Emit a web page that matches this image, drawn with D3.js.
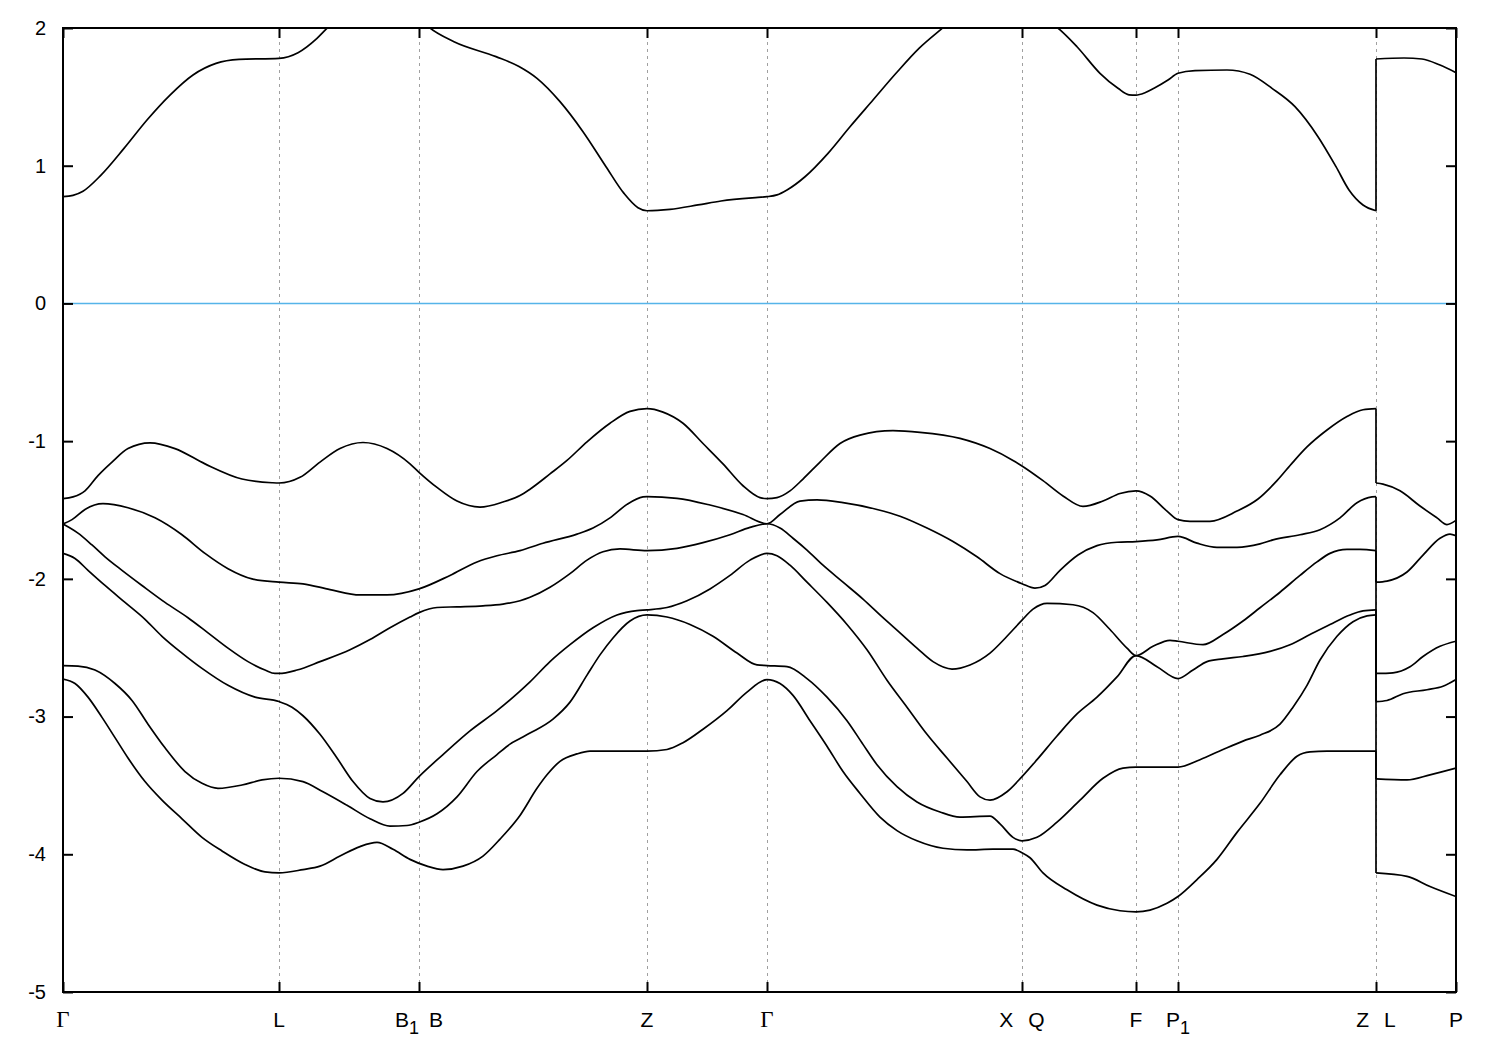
<!DOCTYPE html>
<html><head><meta charset="utf-8">
<script src="https://cdn.jsdelivr.net/npm/d3@7/dist/d3.min.js"></script>
<style>body{margin:0;background:#fff}</style>
</head><body>
<svg id="chart" width="1500" height="1050"></svg>
<script>
// ---- data (k-path distance, energy in eV) ----
const kTicks = [0, 2.16, 3.56, 5.84, 7.04, 9.59, 10.73, 11.15, 13.13, 13.93];
const kLabels = ["Γ", "L", "B_1|B", "Z", "Γ", "X|Q", "F", "P_1", "Z|L", "P"];
const yTicks = [2, 1, 0, -1, -2, -3, -4, -5];
const yDomain = [-5, 2];

const conductionBand = [[0,0.775],[0.10,0.785],[0.20,0.815],[0.38,0.932],[0.61,1.126],[0.84,1.332],[1.07,1.513],[1.30,1.659],[1.53,1.743],[1.76,1.772],[2.16,1.78],[2.35,1.821],[2.54,1.925],[2.65,2.005],[3.0,2.18],[3.3,2.15],[3.56,2.07],[3.66,2.005],[3.91,1.90],[4.33,1.792],[4.56,1.72],[4.74,1.634],[4.97,1.465],[5.20,1.247],[5.43,0.993],[5.61,0.799],[5.75,0.695],[5.84,0.673],[6.07,0.683],[6.35,0.715],[6.58,0.744],[6.95,0.770],[7.04,0.775],[7.14,0.788],[7.24,0.824],[7.42,0.92],[7.65,1.09],[7.87,1.283],[8.10,1.477],[8.33,1.671],[8.56,1.852],[8.78,1.99],[9.0,2.12],[9.3,2.18],[9.6,2.12],[9.94,2.005],[10.14,1.864],[10.37,1.671],[10.55,1.562],[10.66,1.515],[10.73,1.513],[10.82,1.530],[10.91,1.562],[11.05,1.622],[11.15,1.671],[11.32,1.69],[11.64,1.695],[11.87,1.664],[12.09,1.562],[12.32,1.429],[12.55,1.211],[12.73,0.993],[12.86,0.824],[13.00,0.715],[13.13,0.673],[13.13,1.775],[13.41,1.782],[13.59,1.775],[13.77,1.731],[13.93,1.676]];

const valenceBand1 = [[0,-1.417],[0.10,-1.405],[0.22,-1.361],[0.35,-1.25],[0.49,-1.152],[0.65,-1.054],[0.87,-1.012],[1.12,-1.054],[1.42,-1.165],[1.79,-1.275],[2.09,-1.302],[2.16,-1.304],[2.37,-1.263],[2.57,-1.152],[2.77,-1.054],[3.00,-1.01],[3.24,-1.054],[3.47,-1.165],[3.56,-1.226],[3.74,-1.336],[3.94,-1.435],[4.17,-1.479],[4.40,-1.442],[4.57,-1.395],[4.67,-1.349],[4.87,-1.238],[5.04,-1.14],[5.24,-1.005],[5.47,-0.87],[5.67,-0.784],[5.84,-0.764],[6.00,-0.789],[6.20,-0.87],[6.40,-1.017],[6.60,-1.165],[6.80,-1.324],[6.97,-1.41],[7.04,-1.417],[7.14,-1.41],[7.27,-1.361],[7.40,-1.275],[7.57,-1.152],[7.77,-1.017],[7.97,-0.956],[8.30,-0.924],[8.57,-0.936],[8.97,-0.98],[9.27,-1.054],[9.50,-1.14],[9.59,-1.18],[9.80,-1.287],[10.00,-1.398],[10.20,-1.474],[10.40,-1.435],[10.57,-1.38],[10.73,-1.361],[10.87,-1.398],[11.04,-1.508],[11.15,-1.57],[11.27,-1.582],[11.47,-1.582],[11.74,-1.508],[11.95,-1.42],[12.14,-1.287],[12.30,-1.152],[12.44,-1.042],[12.64,-0.919],[12.84,-0.821],[13.00,-0.772],[13.13,-0.764],[13.13,-1.304],[13.20,-1.312],[13.37,-1.361],[13.57,-1.471],[13.74,-1.557],[13.84,-1.606],[13.93,-1.575]];

const valenceBand2 = [[0,-1.602],[0.09,-1.57],[0.22,-1.496],[0.40,-1.454],[0.65,-1.484],[0.92,-1.557],[1.19,-1.68],[1.42,-1.815],[1.65,-1.926],[1.89,-2.0],[2.16,-2.024],[2.40,-2.036],[2.67,-2.078],[2.97,-2.117],[3.24,-2.117],[3.56,-2.073],[3.87,-1.975],[4.14,-1.877],[4.34,-1.832],[4.57,-1.795],[4.80,-1.741],[5.14,-1.675],[5.30,-1.631],[5.47,-1.557],[5.64,-1.459],[5.80,-1.405],[5.84,-1.403],[6.14,-1.415],[6.47,-1.464],[6.80,-1.533],[7.04,-1.600],[7.17,-1.533],[7.37,-1.435],[7.54,-1.427],[7.80,-1.447],[8.14,-1.496],[8.37,-1.545],[8.64,-1.631],[8.90,-1.729],[9.14,-1.84],[9.37,-1.962],[9.59,-2.035],[9.72,-2.068],[9.82,-2.048],[9.97,-1.938],[10.15,-1.827],[10.34,-1.759],[10.54,-1.734],[10.73,-1.729],[10.94,-1.717],[11.15,-1.692],[11.34,-1.741],[11.54,-1.771],[11.74,-1.771],[11.97,-1.746],[12.10,-1.717],[12.37,-1.68],[12.57,-1.643],[12.77,-1.557],[12.94,-1.447],[13.09,-1.405],[13.13,-1.403],[13.13,-2.024],[13.24,-2.016],[13.44,-1.95],[13.60,-1.827],[13.77,-1.705],[13.87,-1.675],[13.93,-1.687]];

const valenceBand3 = [[0,-1.602],[0.15,-1.668],[0.29,-1.754],[0.42,-1.84],[0.59,-1.938],[0.79,-2.048],[1.02,-2.171],[1.25,-2.282],[1.45,-2.392],[1.65,-2.503],[1.85,-2.601],[2.02,-2.662],[2.12,-2.687],[2.16,-2.687],[2.34,-2.662],[2.57,-2.601],[2.87,-2.515],[3.07,-2.441],[3.27,-2.355],[3.47,-2.277],[3.56,-2.245],[3.74,-2.208],[3.94,-2.203],[4.20,-2.196],[4.40,-2.183],[4.57,-2.159],[4.67,-2.134],[4.87,-2.061],[5.07,-1.962],[5.24,-1.864],[5.40,-1.803],[5.57,-1.783],[5.84,-1.795],[6.14,-1.778],[6.40,-1.737],[6.67,-1.68],[6.87,-1.626],[7.04,-1.600],[7.17,-1.631],[7.30,-1.705],[7.44,-1.791],[7.60,-1.901],[7.80,-2.024],[8.00,-2.147],[8.20,-2.282],[8.37,-2.392],[8.54,-2.503],[8.70,-2.601],[8.89,-2.655],[9.07,-2.625],[9.27,-2.539],[9.44,-2.417],[9.59,-2.30],[9.70,-2.22],[9.84,-2.178],[10.10,-2.188],[10.30,-2.245],[10.47,-2.368],[10.64,-2.503],[10.73,-2.557],[10.90,-2.49],[11.07,-2.446],[11.15,-2.453],[11.40,-2.478],[11.60,-2.404],[11.80,-2.306],[11.97,-2.21],[12.17,-2.097],[12.37,-1.975],[12.54,-1.877],[12.67,-1.815],[12.84,-1.786],[12.97,-1.786],[13.13,-1.795],[13.13,-2.687],[13.30,-2.682],[13.47,-2.638],[13.60,-2.564],[13.77,-2.49],[13.93,-2.453]];

const valenceBand4 = [[0,-1.815],[0.12,-1.852],[0.25,-1.938],[0.42,-2.048],[0.62,-2.171],[0.82,-2.294],[0.99,-2.417],[1.19,-2.539],[1.39,-2.65],[1.65,-2.773],[1.92,-2.859],[2.16,-2.891],[2.29,-2.932],[2.40,-2.994],[2.57,-3.129],[2.74,-3.301],[2.90,-3.472],[3.07,-3.595],[3.20,-3.62],[3.40,-3.558],[3.56,-3.436],[3.80,-3.276],[4.07,-3.104],[4.34,-2.957],[4.57,-2.815],[4.67,-2.748],[4.87,-2.601],[5.07,-2.478],[5.30,-2.355],[5.54,-2.262],[5.74,-2.23],[5.84,-2.225],[6.04,-2.208],[6.24,-2.159],[6.47,-2.073],[6.67,-1.975],[6.87,-1.864],[7.04,-1.815],[7.14,-1.832],[7.27,-1.901],[7.44,-2.024],[7.64,-2.171],[7.84,-2.331],[8.04,-2.515],[8.24,-2.736],[8.44,-2.932],[8.64,-3.129],[8.84,-3.301],[9.04,-3.472],[9.17,-3.583],[9.27,-3.607],[9.44,-3.546],[9.59,-3.436],[9.74,-3.313],[9.94,-3.141],[10.14,-2.981],[10.34,-2.859],[10.54,-2.712],[10.73,-2.557],[10.94,-2.638],[11.15,-2.724],[11.30,-2.662],[11.44,-2.601],[11.60,-2.581],[11.80,-2.564],[12.07,-2.527],[12.27,-2.478],[12.47,-2.404],[12.67,-2.331],[12.87,-2.262],[13.00,-2.232],[13.13,-2.225],[13.13,-2.891],[13.24,-2.883],[13.40,-2.834],[13.64,-2.805],[13.80,-2.78],[13.93,-2.731]];

const valenceBand5 = [[0,-2.63],[0.15,-2.633],[0.32,-2.662],[0.52,-2.76],[0.69,-2.883],[0.85,-3.055],[1.02,-3.227],[1.22,-3.399],[1.39,-3.485],[1.55,-3.521],[1.79,-3.497],[1.99,-3.46],[2.16,-3.448],[2.40,-3.472],[2.60,-3.546],[2.84,-3.644],[3.07,-3.742],[3.27,-3.796],[3.44,-3.791],[3.56,-3.767],[3.74,-3.706],[3.94,-3.583],[4.14,-3.399],[4.34,-3.276],[4.47,-3.20],[4.57,-3.16],[4.67,-3.12],[4.90,-3.018],[5.07,-2.895],[5.24,-2.699],[5.37,-2.552],[5.50,-2.429],[5.67,-2.306],[5.84,-2.262],[6.04,-2.277],[6.27,-2.331],[6.50,-2.417],[6.74,-2.539],[6.94,-2.625],[7.04,-2.63],[7.24,-2.638],[7.44,-2.724],[7.64,-2.859],[7.84,-3.03],[8.00,-3.202],[8.14,-3.35],[8.34,-3.509],[8.54,-3.62],[8.77,-3.693],[8.97,-3.73],[9.27,-3.723],[9.37,-3.779],[9.50,-3.877],[9.59,-3.902],[9.74,-3.877],[9.94,-3.767],[10.17,-3.607],[10.40,-3.448],[10.60,-3.374],[10.73,-3.367],[11.15,-3.367],[11.37,-3.313],[11.60,-3.239],[11.80,-3.178],[11.97,-3.135],[12.17,-3.055],[12.30,-2.932],[12.44,-2.773],[12.57,-2.589],[12.74,-2.417],[12.90,-2.311],[13.04,-2.269],[13.13,-2.262],[13.13,-3.453],[13.44,-3.46],[13.67,-3.423],[13.93,-3.374]];

const valenceBand6 = [[0,-2.728],[0.12,-2.76],[0.25,-2.859],[0.39,-3.006],[0.52,-3.153],[0.65,-3.301],[0.82,-3.472],[0.99,-3.607],[1.19,-3.742],[1.39,-3.877],[1.59,-3.976],[1.82,-4.074],[2.02,-4.128],[2.16,-4.135],[2.40,-4.111],[2.57,-4.086],[2.77,-4.013],[2.97,-3.944],[3.14,-3.914],[3.30,-3.964],[3.47,-4.037],[3.64,-4.086],[3.80,-4.111],[4.00,-4.086],[4.20,-4.013],[4.37,-3.89],[4.57,-3.718],[4.74,-3.521],[4.84,-3.423],[4.97,-3.325],[5.14,-3.271],[5.27,-3.251],[5.84,-3.251],[6.04,-3.239],[6.20,-3.19],[6.40,-3.092],[6.64,-2.957],[6.84,-2.822],[7.04,-2.731],[7.17,-2.76],[7.30,-2.846],[7.47,-3.03],[7.64,-3.215],[7.80,-3.399],[7.97,-3.558],[8.17,-3.73],[8.34,-3.828],[8.54,-3.902],[8.80,-3.956],[9.04,-3.968],[9.30,-3.963],[9.50,-3.963],[9.59,-3.988],[9.67,-4.025],[9.80,-4.135],[10.04,-4.258],[10.34,-4.369],[10.57,-4.41],[10.73,-4.418],[10.87,-4.405],[11.04,-4.356],[11.15,-4.307],[11.34,-4.184],[11.54,-4.037],[11.74,-3.841],[11.97,-3.63],[12.17,-3.423],[12.34,-3.288],[12.47,-3.256],[12.64,-3.251],[13.13,-3.251],[13.13,-4.135],[13.44,-4.16],[13.67,-4.234],[13.93,-4.307]];

const bands = [conductionBand, valenceBand1, valenceBand2, valenceBand3, valenceBand4, valenceBand5, valenceBand6];

// ---- drawing ----
const svg = d3.select("#chart");
const plot = {left: 63, right: 1456, top: 28, bottom: 992};
const x = d3.scaleLinear().domain([kTicks[0], kTicks[kTicks.length - 1]]).range([plot.left, plot.right]);
const y = d3.scaleLinear().domain(yDomain).range([plot.bottom, plot.top]);

svg.append("rect").attr("width", 1500).attr("height", 1050).attr("fill", "#fff");

svg.append("defs").append("clipPath").attr("id", "clip")
  .append("rect").attr("x", plot.left).attr("y", plot.top)
  .attr("width", plot.right - plot.left).attr("height", plot.bottom - plot.top);

// dashed vertical lines at high-symmetry points
svg.append("g").selectAll("line").data(kTicks.slice(1, -1)).join("line")
  .attr("x1", d => Math.round(x(d)) + 0.5).attr("x2", d => Math.round(x(d)) + 0.5)
  .attr("y1", plot.top).attr("y2", plot.bottom)
  .attr("stroke", "#a0a0a0").attr("stroke-width", 1).attr("stroke-dasharray", "3,4");

// Fermi level
svg.append("line")
  .attr("x1", plot.left).attr("x2", plot.right)
  .attr("y1", y(0)).attr("y2", y(0))
  .attr("stroke", "#56b4e9").attr("stroke-width", 1.5);

// bands
const lineGen = d3.line().x(d => x(d[0])).y(d => y(d[1])).curve(d3.curveMonotoneX);
const straight = d3.line().x(d => x(d[0])).y(d => y(d[1]));
const gBands = svg.append("g").attr("clip-path", "url(#clip)")
  .attr("fill", "none").attr("stroke", "#000").attr("stroke-width", 1.7)
  .attr("stroke-linejoin", "round");
bands.forEach(b => {
  const segs = [];
  const jumps = [];
  let cur = [b[0]];
  for (let i = 1; i < b.length; i++) {
    if (b[i][0] === b[i - 1][0]) {
      segs.push(cur); jumps.push([b[i - 1], b[i]]); cur = [b[i]];
    } else cur.push(b[i]);
  }
  segs.push(cur);
  segs.forEach(s => gBands.append("path").attr("d", lineGen(s)));
  jumps.forEach(j => gBands.append("path").attr("d", straight(j)));
});

// axes (gnuplot style, inward ticks, mirrored)
const tickStyle = g => {
  g.select(".domain").remove();
  g.selectAll(".tick line").attr("stroke", "#000").attr("stroke-width", 2);
  g.selectAll(".tick text").attr("fill", "#000")
    .attr("font-family", "'Liberation Sans', Arial, sans-serif").attr("font-size", 20);
};
svg.append("g").attr("transform", `translate(${plot.left},0)`)
  .call(d3.axisLeft(y).tickValues(yTicks).tickSize(-10).tickPadding(17).tickFormat(d => String(d)))
  .call(tickStyle);
svg.append("g").attr("transform", `translate(${plot.right},0)`)
  .call(d3.axisRight(y).tickValues(yTicks).tickSize(-10).tickFormat(""))
  .call(tickStyle);
svg.append("g").attr("transform", `translate(0,${plot.bottom})`)
  .call(d3.axisBottom(x).tickValues(kTicks).tickSize(-10).tickFormat(""))
  .call(tickStyle);
svg.append("g").attr("transform", `translate(0,${plot.top})`)
  .call(d3.axisTop(x).tickValues(kTicks).tickSize(-10).tickFormat(""))
  .call(tickStyle);

// frame
svg.append("rect").attr("x", plot.left).attr("y", plot.top)
  .attr("width", plot.right - plot.left).attr("height", plot.bottom - plot.top)
  .attr("fill", "none").attr("stroke", "#000").attr("stroke-width", 2);

// k-point labels with subscripts; "|" separates two coincident points
const gLab = svg.append("g").attr("font-family", "'Liberation Sans', Arial, sans-serif")
  .attr("font-size", 21).attr("fill", "#000").attr("text-anchor", "middle");
kTicks.forEach((k, i) => {
  const t = gLab.append("text").attr("x", x(k)).attr("y", 1027);
  const parts = kLabels[i].split(/(_\d|\|)/).filter(p => p.length);
  let pendingDy = 0, pendingDx = 0, lastSub = false;
  parts.forEach(p => {
    if (p === "|") { pendingDx = lastSub ? 10 : 15; return; }
    let ts;
    if (p[0] === "_") {
      ts = t.append("tspan").attr("font-size", 18).attr("dy", 7 + pendingDy).text(p.slice(1));
      pendingDy = -7; lastSub = true;
    } else if (p === "Γ") {
      ts = t.append("tspan").attr("font-family", "'Liberation Serif', 'DejaVu Serif', serif")
        .attr("font-size", 23).attr("dy", pendingDy).text(p);
      pendingDy = 0; lastSub = false;
    } else {
      ts = t.append("tspan").attr("dy", pendingDy).text(p);
      pendingDy = 0; lastSub = false;
    }
    if (pendingDx) { ts.attr("dx", pendingDx); pendingDx = 0; }
  });
});
</script>
</body></html>
